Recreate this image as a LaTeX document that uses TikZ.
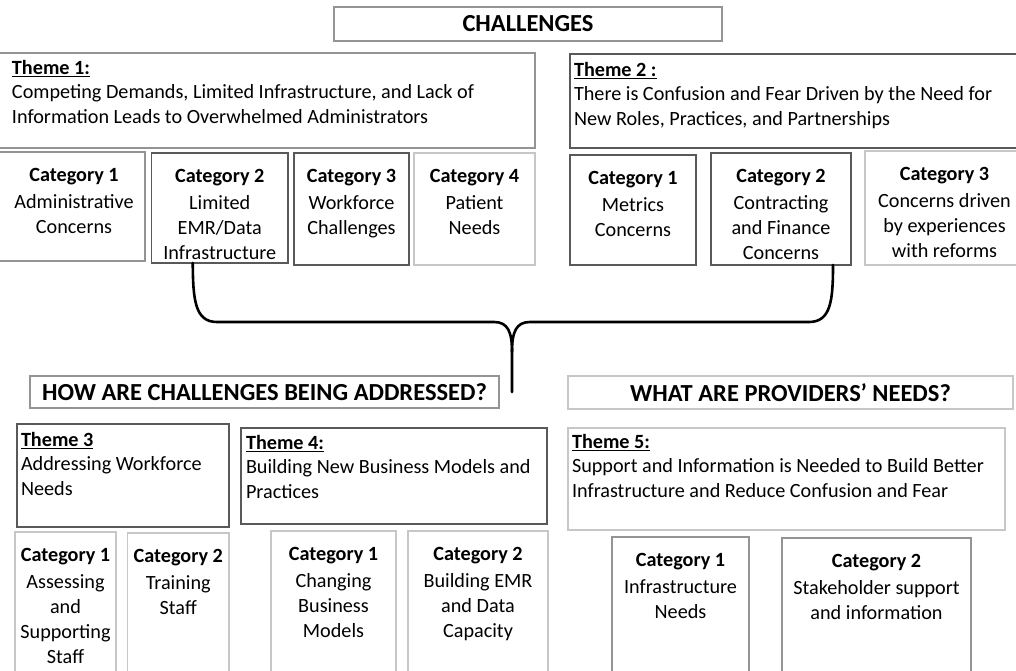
\documentclass[tikz,border=0pt]{standalone}
\usepackage{fontspec}
\setmainfont{Carlito}
\begin{document}
\begin{tikzpicture}[x=1pt,y=-1pt,
  every node/.style={inner sep=0pt,outer sep=0pt},
  sz/.style 2 args={minimum width=#1pt,minimum height=#2pt,anchor=north west},
  boxL/.style={draw=black!22,line width=1.1pt},
  boxM/.style={draw=black!42,line width=1.1pt},
  boxD/.style={draw=black!65,line width=1.1pt},
  headtxt/.style={font=\fontsize{24.5}{28}\selectfont\bfseries},
  themetxt/.style={font=\fontsize{20.2}{24.5}\selectfont,align=left,anchor=north west},
  cattxt/.style={font=\fontsize{20.2}{25}\selectfont,align=center,anchor=north},
  brace/.style={line width=2.6pt,black,line cap=round,line join=round}]
\useasboundingbox (0,0) rectangle (1016,671);

% ---------- Challenges ----------
\node[boxM,sz={388}{34}] (chal) at (334,7) {};
\node[headtxt] (chaltxt) at (chal.center) {CHALLENGES};

\node[boxM,sz={538}{95}] (th1) at (-3,53) {};
\node[themetxt] (th1txt) at (12,60)
  {\underline{\textbf{Theme 1:}}\\Competing Demands, Limited Infrastructure, and Lack of\\Information Leads to Overwhelmed Administrators};

\node[boxM,sz={148}{109}] (t1c1) at (-3,152) {};
\node[boxD,sz={136.5}{110}] (t1c2) at (151.5,153) {};
\node[boxD,sz={115}{112}] (t1c3) at (294,153) {};
\node[boxL,sz={121}{112}] (t1c4) at (414,153) {};
\node[cattxt] (t1c1txt) at ([xshift=3pt,yshift=-16pt]t1c1.north) {\textbf{Category 1}\\[2pt]Administrative\\Concerns};
\node[cattxt] (t1c2txt) at ([yshift=-16pt]t1c2.north) {\textbf{Category 2}\\[2pt]Limited\\EMR/Data\\Infrastructure};
\node[cattxt] (t1c3txt) at ([yshift=-16pt]t1c3.north) {\textbf{Category 3}\\[2pt]Workforce\\Challenges};
\node[cattxt] (t1c4txt) at ([yshift=-16pt]t1c4.north) {\textbf{Category 4}\\[2pt]Patient\\Needs};

\node[boxD,sz={450}{94}] (th2) at (570,54) {};
\node[themetxt] (th2txt) at (574,62)
  {\underline{\textbf{Theme 2 :}}\\There is Confusion and Fear Driven by the Need for\\New Roles, Practices, and Partnerships};

\node[boxD,sz={126}{110}] (t2c1) at (570,155) {};
\node[boxD,sz={140}{112}] (t2c2) at (711,153) {};
\node[boxL,sz={155}{114}] (t2c3) at (865,151) {};
\node[cattxt] (t2c1txt) at ([yshift=-16pt]t2c1.north) {\textbf{Category 1}\\[2pt]Metrics\\Concerns};
\node[cattxt] (t2c2txt) at ([yshift=-16pt]t2c2.north) {\textbf{Category 2}\\[2pt]Contracting\\and Finance\\Concerns};
\node[cattxt] (t2c3txt) at ([xshift=2pt,yshift=-16pt]t2c3.north) {\textbf{Category 3}\\[2pt]Concerns driven\\by experiences\\with reforms};

% ---------- Brace joining the challenges to the responses ----------
\coordinate (bl) at ([xshift=-27pt]t1c2.south);
\coordinate (br) at ([xshift=52pt]t2c2.south);
\coordinate (tip) at (512,392);
\draw[brace] (bl) .. controls (193,300) and (195,322) .. (217,322) -- (494,322)
  .. controls (508,322) and (512,332) .. (512,352) -- (tip);
\draw[brace] (br) .. controls (833,300) and (831,322) .. (809,322) -- (530,322)
  .. controls (516,322) and (512,332) .. (512,352);

% ---------- How are challenges being addressed ----------
\node[boxM,sz={469}{32}] (how) at (30,376) {};
\node[headtxt] (howtxt) at (how.center) {HOW ARE CHALLENGES BEING ADDRESSED?};

\node[boxD,sz={212}{103}] (th3) at (17,424) {};
\node[themetxt] (th3txt) at (21,432)
  {\underline{\textbf{Theme 3}}\\Addressing Workforce\\Needs};
\node[boxD,sz={306}{96}] (th4) at (241,428) {};
\node[themetxt] (th4txt) at (246,435)
  {\underline{\textbf{Theme 4:}}\\Building New Business Models and\\Practices};

\node[boxL,sz={101}{150}] (t3c1) at (15,532) {};
\node[boxL,sz={101.5}{150}] (t3c2) at (127.5,533) {};
\node[boxL,sz={125}{150}] (t4c1) at (271,531) {};
\node[boxL,sz={140}{150}] (t4c2) at (408,531) {};
\node[cattxt] (t3c1txt) at ([yshift=-16pt]t3c1.north) {\textbf{Category 1}\\[2pt]Assessing\\and\\Supporting\\Staff};
\node[cattxt] (t3c2txt) at ([yshift=-16pt]t3c2.north) {\textbf{Category 2}\\[2pt]Training\\Staff};
\node[cattxt] (t4c1txt) at ([yshift=-16pt]t4c1.north) {\textbf{Category 1}\\[2pt]Changing\\Business\\Models};
\node[cattxt] (t4c2txt) at ([yshift=-16pt]t4c2.north) {\textbf{Category 2}\\[2pt]Building EMR\\and Data\\Capacity};

% ---------- What are providers' needs ----------
\node[boxL,sz={445}{33}] (what) at (568,376) {};
\node[headtxt] (whattxt) at (what.center) {WHAT ARE PROVIDERS’ NEEDS?};

\node[boxL,sz={437}{102}] (th5) at (568,428) {};
\node[themetxt] (th5txt) at (572,434)
  {\underline{\textbf{Theme 5:}}\\Support and Information is Needed to Build Better\\Infrastructure and Reduce Confusion and Fear};

\node[boxM,sz={137}{150}] (t5c1) at (612,537) {};
\node[boxM,sz={189}{150}] (t5c2) at (782,538) {};
\node[cattxt] (t5c1txt) at ([yshift=-16pt]t5c1.north) {\textbf{Category 1}\\[2pt]Infrastructure\\Needs};
\node[cattxt] (t5c2txt) at ([yshift=-16pt]t5c2.north) {\textbf{Category 2}\\[2pt]Stakeholder support\\and information};
\end{tikzpicture}
\end{document}
